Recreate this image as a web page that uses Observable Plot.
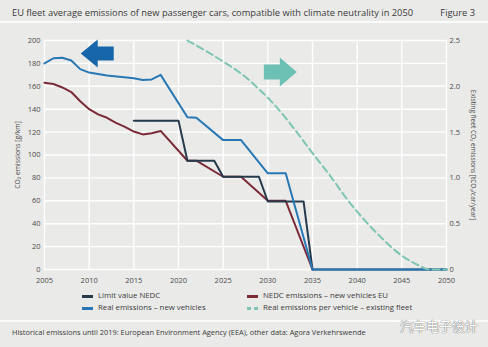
<!DOCTYPE html>
<html><head><meta charset="utf-8">
<script src="https://cdn.jsdelivr.net/npm/d3@7"></script>
<script src="https://cdn.jsdelivr.net/npm/@observablehq/plot@0.6"></script>
<style>
body{margin:0;background:#eaeae9;}
#c{position:relative;width:488px;height:347px;background:#eaeae9;font-family:"Open Sans",sans-serif;color:#333;overflow:hidden}
#c svg{position:absolute;left:0;top:0}
.t{position:absolute;white-space:nowrap;line-height:1}
.hr{position:absolute;left:0;width:488px;height:2px;background:#fbfbfb}
.sw{position:absolute;width:11px;height:2.5px}
</style></head><body><div id="c"></div><script>
// ---- data ----
const realYears = [2005,2006,2007,2008,2009,2010,2012,2015,2016,2017,2018,2021,2022,2025,2027,2030,2032,2035,2050];
const realVals  = [180,184.5,185,182.5,175,172,169.5,167,165.5,166,170,133,132.5,113,113,84,84,0,0];
const nedcYears = [2005,2006,2007,2008,2009,2010,2011,2012,2013,2014,2015,2016,2017,2018,2021,2022,2025,2027,2030,2032,2035];
const nedcVals  = [163,162,159,155,147,140,135.5,132.5,128,124.5,120.5,118,119,121,95,95,81,81,60,60,0];
const limitYears = [2015,2020,2021,2024,2025,2029,2030,2034,2035,2050];
const limitVals  = [130,130,95,95,81,81,59.4,59.4,0,0];
const fleetYears = [2021,2023,2025,2027,2029,2031,2033,2035,2037,2039,2041,2043,2045,2047,2048,2050];
const fleetVals  = [2.5,2.39,2.27,2.14,1.97,1.77,1.53,1.27,1.02,0.75,0.52,0.32,0.15,0.04,0,0]; // t/car/year (right axis)
const xTicks = [2005,2010,2015,2020,2025,2030,2035,2040,2045,2050];
const yTicks = [0,20,40,60,80,100,120,140,160,180,200];
const rightTicks = [0,0.5,1.0,1.5,2.0,2.5];
const rightLabels = ["0","0.5","1.0","1.5","2.0","2.5"];
const axisRatio = 80; // 2.5 t  <->  200 g/km
const arrowYears = [2010.9, 2031.4];
const arrowVals = [188.6, 172.5];

const title = "EU fleet average emissions of new passenger cars, compatible with climate neutrality in 2050";
const figLabel = "Figure 3";
const yTitle = "CO\u2082 emissions [g/km]";
const yTitleRight = "Existing fleet CO\u2082 emissions [tCO\u2082/car/year]";
const legendItems = ["Limit value NEDC","NEDC emissions – new vehicles EU","Real emissions – new vehicles","Real emissions per vehicle – existing fleet"];
const footer = "Historical emissions until 2019: European Environment Agency (EEA), other data: Agora Verkehrswende";
const watermark = "汽车电子设计";

const C = {limit:"#253a4b", nedc:"#7b2b37", real:"#2878b5", fleet:"#7ec5b3", arrowL:"#1766aa", arrowR:"#6cc0b4"};

const toRows = (xs, vs) => xs.map((x,i)=>({x, v:vs[i]}));
const real = toRows(realYears, realVals);
const nedc = toRows(nedcYears, nedcVals);
const limit = toRows(limitYears, limitVals);
const fleet = toRows(fleetYears, fleetVals);

const leftArrow = {draw(ctx){ctx.moveTo(-16.5,0);ctx.lineTo(0.5,-14);ctx.lineTo(0.5,-7);ctx.lineTo(16.5,-7);ctx.lineTo(16.5,7);ctx.lineTo(0.5,7);ctx.lineTo(0.5,14);ctx.closePath();}};
const rightArrow = {draw(ctx){ctx.moveTo(16.5,0);ctx.lineTo(-0.5,-14.5);ctx.lineTo(-0.5,-7.5);ctx.lineTo(-16.5,-7.5);ctx.lineTo(-16.5,7.5);ctx.lineTo(-0.5,7.5);ctx.lineTo(-0.5,14.5);ctx.closePath();}};

const chart = Plot.plot({
  width: 488, height: 290,
  marginTop: 40, marginBottom: 21, marginLeft: 44, marginRight: 42,
  style: {background: "transparent", fontFamily: "Open Sans, sans-serif", fontSize: "7.5px", color: "#4a4a4a"},
  x: {domain: [2005, 2050]},
  y: {domain: [0, 200]},
  marks: [
    Plot.gridX(xTicks, {stroke: "#fff", strokeOpacity: 1, strokeWidth: 1.4}),
    Plot.gridY(yTicks, {stroke: "#fff", strokeOpacity: 1, strokeWidth: 1.4}),
    Plot.axisX(xTicks, {tickSize: 0, tickPadding: 8, tickFormat: d => String(d), label: null}),
    Plot.axisY(yTicks, {anchor: "left", tickSize: 0, tickPadding: 4, label: null}),
    Plot.axisY(rightTicks.map(v => v * axisRatio), {anchor: "right", tickSize: 0, tickPadding: 3, label: null,
      tickFormat: v => rightLabels[rightTicks.indexOf(v / axisRatio)]}),
    Plot.text([yTitle], {frameAnchor: "left", dx: -27, rotate: -90, textAnchor: "middle", fontSize: 6.8, fill: "#4a4a4a"}),
    Plot.text([yTitleRight], {frameAnchor: "right", dx: 27, rotate: 90, textAnchor: "middle", fontSize: 6.5, fill: "#4a4a4a"}),
    Plot.line(nedc, {x: "x", y: "v", stroke: C.nedc, strokeWidth: 2}),
    Plot.line(limit, {x: "x", y: "v", stroke: C.limit, strokeWidth: 2}),
    Plot.line(real, {x: "x", y: "v", stroke: C.real, strokeWidth: 2}),
    Plot.line(fleet, {x: "x", y: d => d.v * axisRatio, stroke: C.fleet, strokeWidth: 2, strokeDasharray: "7,4", curve: "monotone-x"}),
    Plot.dot([0], {x: i => arrowYears[i], y: i => arrowVals[i], symbol: leftArrow, fill: C.arrowL, stroke: "none", r: 10}),
    Plot.dot([1], {x: i => arrowYears[i], y: i => arrowVals[i], symbol: rightArrow, fill: C.arrowR, stroke: "none", r: 10})
  ]
});

const c = document.getElementById("c");
c.appendChild(chart);
function add(html){c.insertAdjacentHTML("beforeend", html);}
add(`<div class="t" style="left:12px;top:8px;font-size:9.3px;color:#3a3a3a">${title}</div>`);
add(`<div class="t" style="right:13px;top:8px;font-size:9.3px;color:#3a3a3a">${figLabel}</div>`);
add(`<div class="hr" style="top:21px"></div>`);
// legend
const L = [[82,296,C.limit,false],[247,296,C.nedc,false],[82,308,C.real,false],[247,308,C.fleet,true]];
L.forEach(([x,y,col,dash],i)=>{
  if(dash){
    add(`<div class="sw" style="left:${x}px;top:${y-1}px;width:4px;background:${col}"></div>`);
    add(`<div class="sw" style="left:${x+7}px;top:${y-1}px;width:4px;background:${col}"></div>`);
  } else add(`<div class="sw" style="left:${x}px;top:${y-1}px;background:${col}"></div>`);
  add(`<div class="t" style="left:${x+16}px;top:${y-4.5}px;font-size:7.8px;color:#3a3a3a">${legendItems[i]}</div>`);
});
add(`<div class="hr" style="top:320px"></div>`);
add(`<div class="t" style="left:12px;top:329px;font-size:7.4px;color:#3a3a3a">${footer}</div>`);
add(`<div class="t" style="left:400px;top:319px;font-size:13px;font-family:'Noto Sans CJK SC';color:#fff;text-shadow:0 0 1px #666,0 0 1px #666">${watermark}</div>`);
</script></body></html>
